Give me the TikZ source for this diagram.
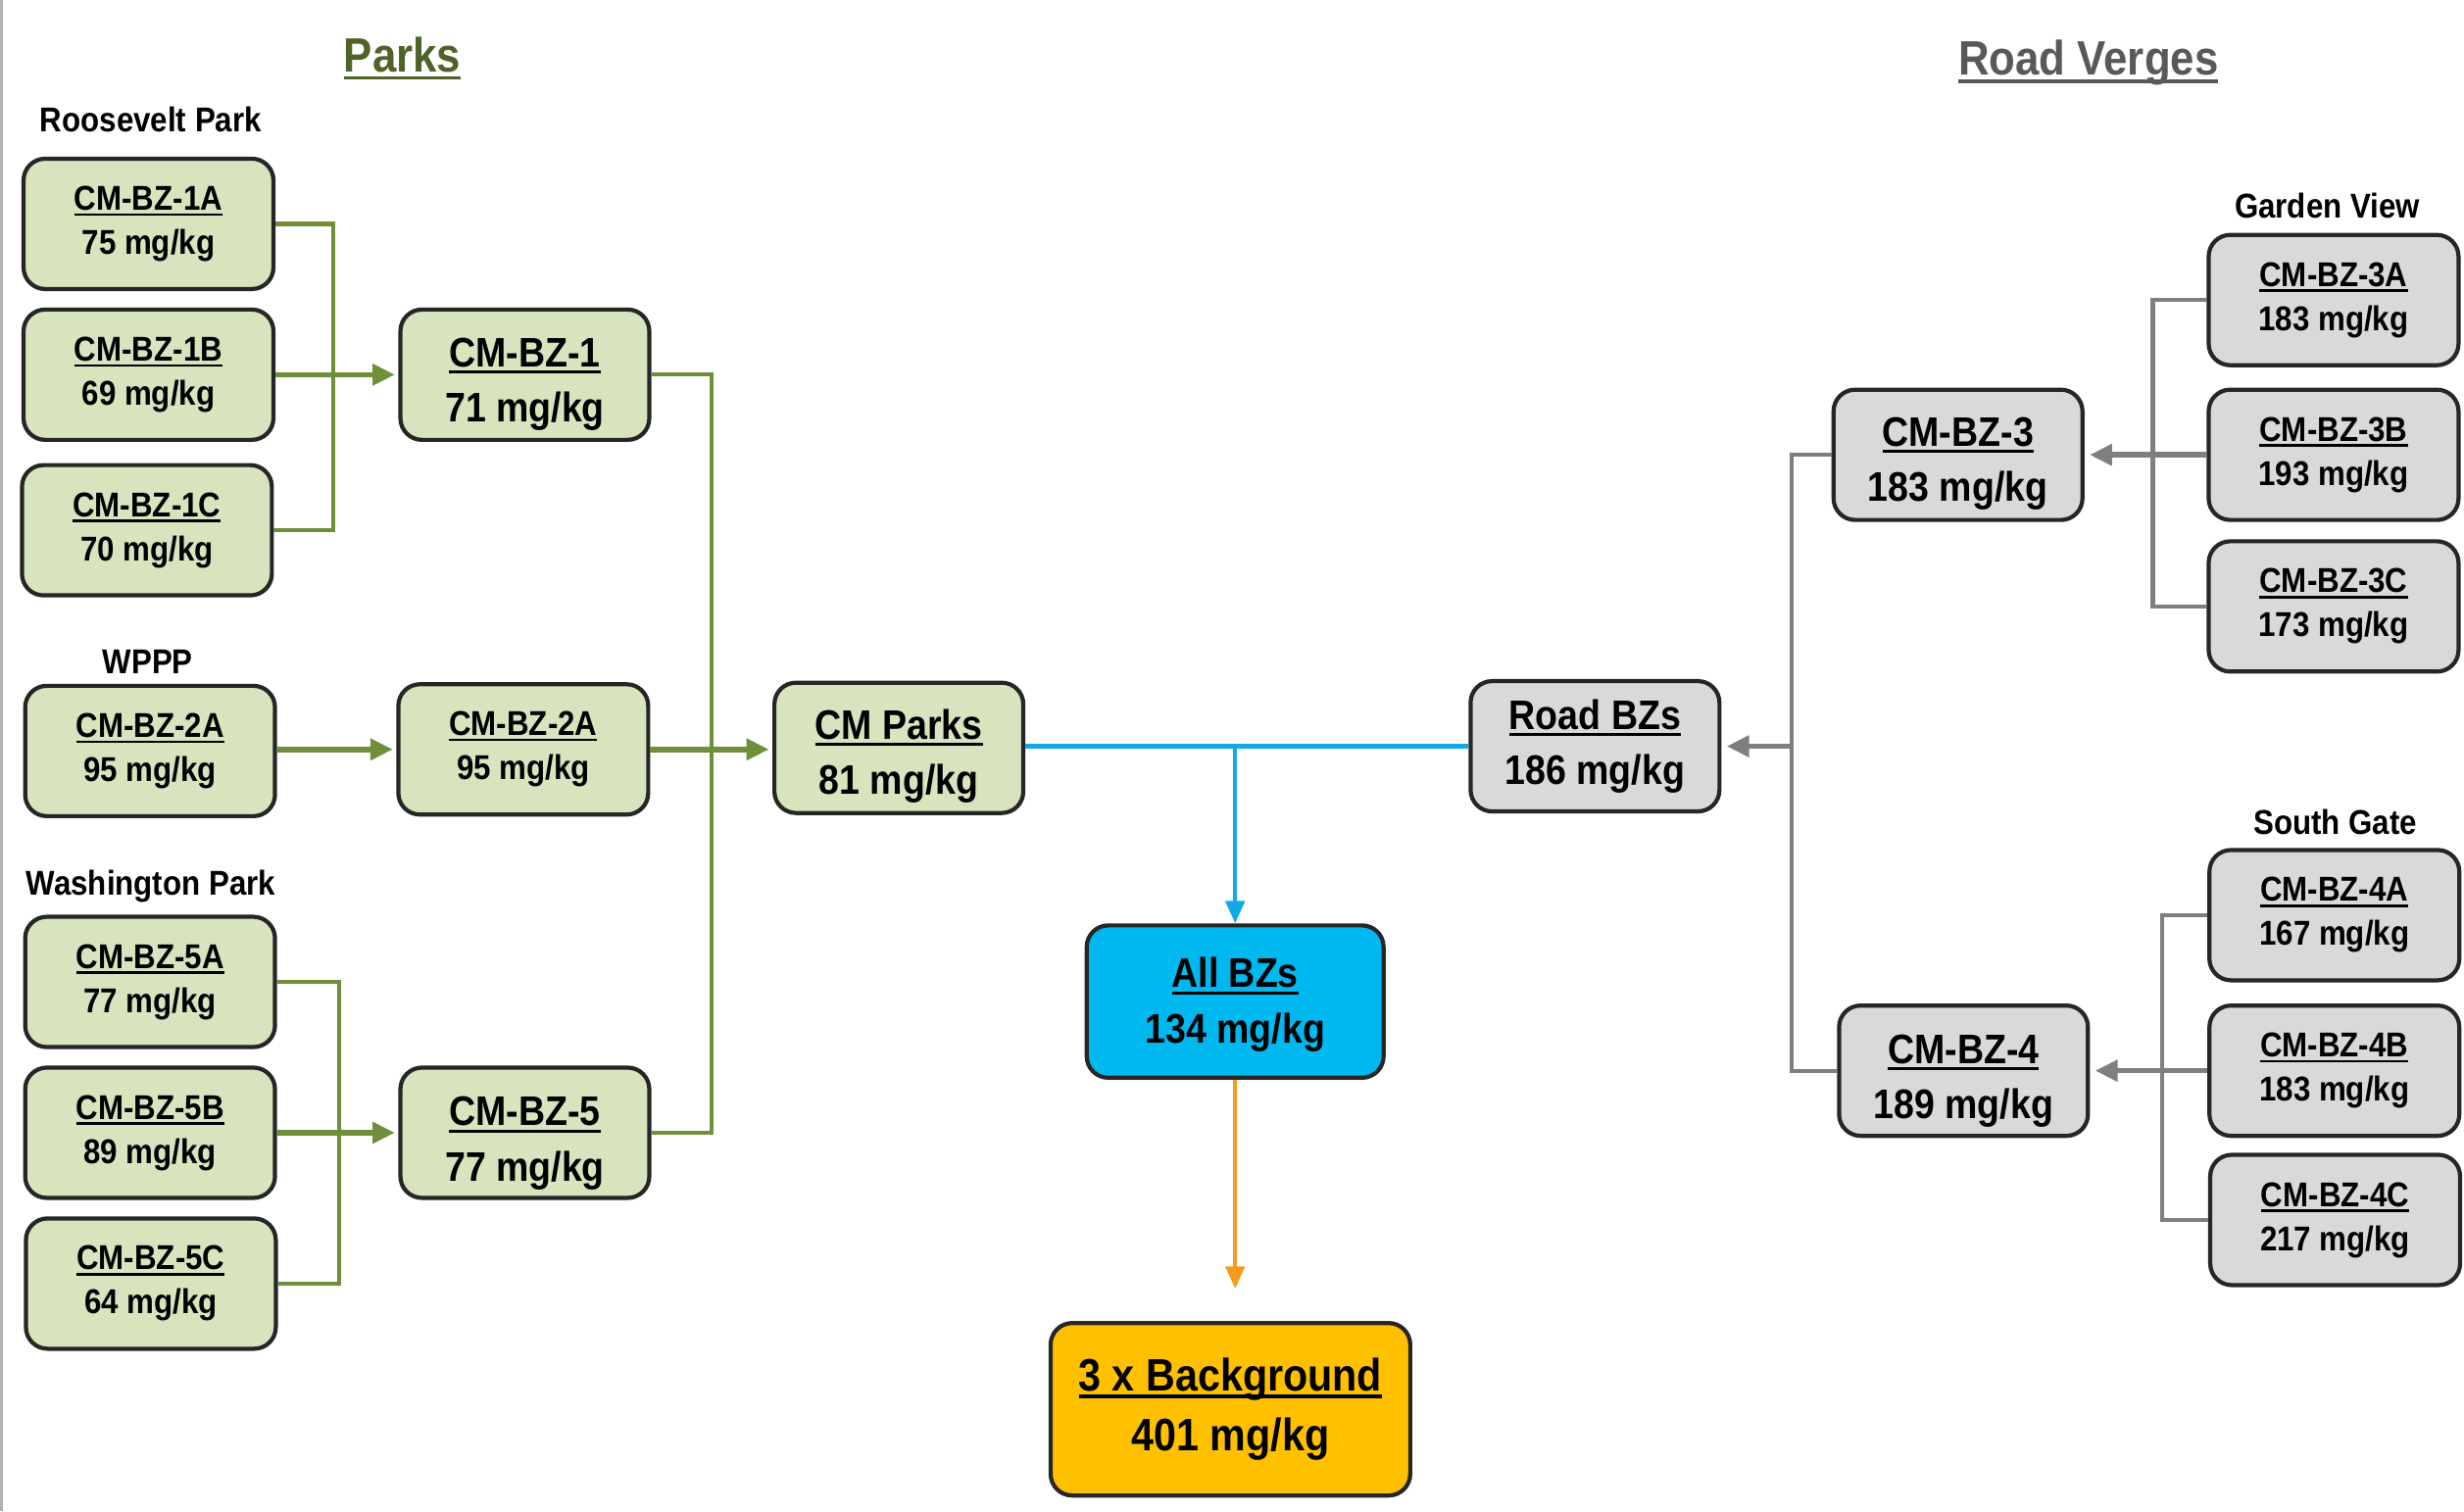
\documentclass[tikz,border=0pt]{standalone}
\usepackage{fontspec}
\setmainfont{Liberation Sans}[FakeStretch=0.89]
\usetikzlibrary{arrows.meta}
\definecolor{gfill}{HTML}{D7E4BD}
\definecolor{gline}{HTML}{6F8F3A}
\definecolor{gtitle}{HTML}{4F6228}
\definecolor{grfill}{HTML}{D9D9D9}
\definecolor{grline}{HTML}{7F7F7F}
\definecolor{gtitle2}{HTML}{595959}
\definecolor{bfill}{HTML}{00B8F0}
\definecolor{bline}{HTML}{12A9E8}
\definecolor{ofill}{HTML}{FFC000}
\definecolor{oline}{HTML}{F79A1E}
\newcommand\myul[1]{\setbox0=\hbox{#1}\leavevmode\rlap{\vrule height -0.09em depth 0.16em width \wd0}\box0}
\newcommand\tstrut[1]{\rule{0pt}{#1}}
\tikzset{
  box/.style={draw=black!85, line width=1.2pt, rounded corners=2.2mm, align=center, inner sep=0pt},
  sbox/.style={box, minimum width=2.55cm, minimum height=1.33cm, font=\bfseries\fontsize{10}{12.8}\selectfont},
  bbox/.style={box, minimum width=2.54cm, minimum height=1.33cm, font=\bfseries\fontsize{12}{16}\selectfont},
  gbox/.style={fill=gfill},
  grbox/.style={fill=grfill},
  lab/.style={font=\bfseries\fontsize{10}{12}\selectfont, inner sep=0pt},
  ttl/.style={font=\bfseries\fontsize{14}{16}\selectfont, inner sep=0pt},
  gconn/.style={draw=gline, line width=1.2pt},
  garr/.style={draw=gline, line width=1.6pt, -{Triangle[length=6.5pt,width=6pt]}, shorten >=1pt},
  grconn/.style={draw=grline, line width=1.2pt},
  grarr/.style={draw=grline, line width=1.6pt, -{Triangle[length=6.5pt,width=6pt]}, shorten >=1.5pt},
  bconn/.style={draw=bline, line width=1.2pt},
  barr/.style={draw=bline, line width=1.2pt, -{Triangle[length=6.5pt,width=5.5pt]}},
  oarr/.style={draw=oline, line width=1.2pt, -{Triangle[length=6.5pt,width=5.5pt]}, shorten >=3.3mm},
}
\begin{document}
\begin{tikzpicture}[x=0.016033cm, y=-0.016033cm]
\useasboundingbox (0,0) rectangle (1568,962);
\fill[white] (0,0) rectangle (1568,962);
\draw[black!30, line width=0.8pt] (1,0) -- (1,962);

% titles
\node[ttl, text=gtitle] (tparks) at (256,37) {\myul{Parks}};
\node[ttl, text=gtitle2] (troad) at (1329,40) {\myul{Road Verges}};

% group labels
\node[lab] (lroos) at (96,76) {Roosevelt Park};
\node[lab] (lwppp) at (94,421) {WPPP};
\node[lab] (lwash) at (96,564) {Washington Park};
\node[lab] (lgard) at (1481,131) {Garden View};
\node[lab] (lsouth) at (1486,523) {South Gate};

% parks boxes
\node[sbox, gbox] (b1a) at (94.5,142.5) {\myul{CM-BZ-1A}\\75 mg/kg};
\node[sbox, gbox] (b1b) at (94.5,238.5) {\myul{CM-BZ-1B}\\69 mg/kg};
\node[sbox, gbox] (b1c) at (93.5,337.5) {\myul{CM-BZ-1C}\\70 mg/kg};
\node[bbox, gbox] (b1) at (334,238.5) {\tstrut{14pt}\myul{CM-BZ-1}\\71 mg/kg};

\node[sbox, gbox] (l2a) at (95.5,478) {\myul{CM-BZ-2A}\\95 mg/kg};
\node[sbox, gbox] (m2a) at (333,477) {\myul{CM-BZ-2A}\\95 mg/kg};

\node[sbox, gbox] (b5a) at (95.5,625) {\myul{CM-BZ-5A}\\77 mg/kg};
\node[sbox, gbox] (b5b) at (95.5,721) {\myul{CM-BZ-5B}\\89 mg/kg};
\node[sbox, gbox] (b5c) at (96,817) {\myul{CM-BZ-5C}\\64 mg/kg};
\node[bbox, gbox] (b5) at (334,721) {\tstrut{14.5pt}\myul{CM-BZ-5}\\77 mg/kg};

\node[bbox, gbox] (parks) at (572,476) {\tstrut{13.5pt}\myul{CM Parks}\\81 mg/kg};

% central
\node[box, fill=bfill, minimum width=3.03cm, minimum height=1.555cm, font=\bfseries\fontsize{12}{16}\selectfont] (allbz) at (786,637.5) {\tstrut{10.5pt}\myul{All BZs}\\134 mg/kg};
\node[box, fill=ofill, minimum width=3.67cm, minimum height=1.76cm, font=\bfseries\fontsize{13.2}{17.5}\selectfont] (bg) at (783,897) {\myul{3 x Background}\\401 mg/kg};

% road boxes
\node[bbox, grbox] (road) at (1015,475) {\myul{Road BZs}\\186 mg/kg};
\node[bbox, grbox] (b3) at (1246,289.5) {\tstrut{13.5pt}\myul{CM-BZ-3}\\183 mg/kg};
\node[bbox, grbox] (b4) at (1249.5,681.5) {\tstrut{14.5pt}\myul{CM-BZ-4}\\189 mg/kg};

\node[sbox, grbox] (b3a) at (1485,191) {\myul{CM-BZ-3A}\\183 mg/kg};
\node[sbox, grbox] (b3b) at (1485,289.5) {\myul{CM-BZ-3B}\\193 mg/kg};
\node[sbox, grbox] (b3c) at (1485,386) {\myul{CM-BZ-3C}\\173 mg/kg};

\node[sbox, grbox] (b4a) at (1485.5,582.5) {\myul{CM-BZ-4A}\\167 mg/kg};
\node[sbox, grbox] (b4b) at (1485.5,681.5) {\myul{CM-BZ-4B}\\183 mg/kg};
\node[sbox, grbox] (b4c) at (1486,776.5) {\myul{CM-BZ-4C}\\217 mg/kg};

% junction coordinates
\coordinate (j1) at (212,238.5);
\coordinate (j5) at (216,721);
\coordinate (jp) at (453,477);
\coordinate (jb) at (786,475);
\coordinate (jr) at (1140,475);
\coordinate (j3) at (1370,289.5);
\coordinate (j4) at (1376,681.5);

% green connectors
\draw[gconn] (b1a.east) -| (j1);
\draw[gconn] (b1c.east) -| (j1);
\draw[garr] (b1b.east) -- (b1.west);
\draw[gconn] (b5a.east) -| (j5);
\draw[gconn] (b5c.east) -| (j5);
\draw[garr] (b5b.east) -- (b5.west);
\draw[garr] (l2a.east |- m2a.west) -- (m2a.west);
\draw[gconn] (b1.east) -| (jp);
\draw[gconn] (b5.east) -| (jp);
\draw[garr] (m2a.east) -- (parks.west |- m2a.east);

% blue / orange
\draw[bconn] (parks.east |- jb) -- (road.west |- jb);
\draw[barr] (jb) -- (allbz.north);
\draw[oarr] (allbz.south) -- (allbz.south |- bg.north);

% gray connectors
\draw[grconn] (b3.west) -| (jr);
\draw[grconn] (b4.west) -| (jr);
\draw[grarr] (jr) -- (road.east);
\draw[grconn] (b3a.west) -| (j3);
\draw[grconn] (b3c.west) -| (j3);
\draw[grarr] (b3b.west) -- (b3.east);
\draw[grconn] (b4a.west) -| (j4);
\draw[grconn] (b4c.west) -| (j4);
\draw[grarr] (b4b.west) -- (b4.east);
\end{tikzpicture}
\end{document}
